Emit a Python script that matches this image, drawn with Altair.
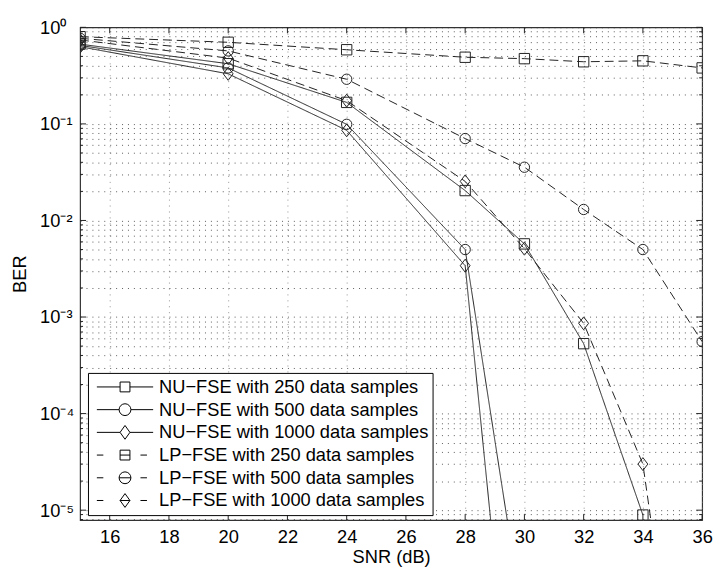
import altair as alt
import pandas as pd

# ---------------- data ----------------
snr = [15, 20, 24, 28, 30, 32, 34, 36]
series = [
    "NU−FSE with 250 data samples",
    "NU−FSE with 500 data samples",
    "NU−FSE with 1000 data samples",
    "LP−FSE with 250 data samples",
    "LP−FSE with 500 data samples",
    "LP−FSE with 1000 data samples",
]
nu_250 = [0.67, 0.42, 0.167, 0.0204, 0.00572, 5.3e-4, 8.9e-6, None]
nu_500 = [0.65, 0.38, 0.099, 0.0050, 5.7e-7, None, None, None]
nu_1000 = [0.63, 0.33, 0.0858, 0.0034, 2.6e-9, None, None, None]
lp_250 = [0.80, 0.70, 0.586, 0.49, 0.474, 0.44, 0.45, 0.38]
lp_500 = [0.77, 0.57, 0.29, 0.0705, 0.0356, 0.0130, 0.0050, 5.56e-4]
lp_1000 = [0.74, 0.48, 0.174, 0.0254, 0.0051, 8.6e-4, 3.0e-5, 1.5e-9]

x_tick_values = [16, 18, 20, 22, 24, 26, 28, 30, 32, 34, 36]
y_decades = [1e-5, 1e-4, 1e-3, 1e-2, 1e-1, 1.0]
y_domain = [7.9e-6, 1.0]
x_domain = [15, 36]

# ---------------- tables ----------------
all_vals = [nu_250, nu_500, nu_1000, lp_250, lp_500, lp_1000]
rows = []
for name, vals in zip(series, all_vals):
    for x, v in zip(snr, vals):
        if v is not None:
            rows.append({"snr": x, "ber": v, "series": name})
df = pd.DataFrame(rows)

y_minor = []
for e in range(-6, 0):
    for m in range(1, 10):
        v = float(f"{m}e{e}")
        if y_domain[0] <= v <= y_domain[1]:
            y_minor.append(v)
y_minor.append(1.0)
y_minor_only = [v for v in y_minor if v not in y_decades]

# ---------------- styling ----------------
FONT = "Liberation Sans"
FS = 18.5
W, H = 630, 499
INK = "#222222"

sup = {0: "10⁰", -1: "10⁻¹", -2: "10⁻²", -3: "10⁻³", -4: "10⁻⁴", -5: "10⁻⁵"}
E = "round(log(datum.value)/LN10)"
inner = " : ".join(f"{E} == {k} ? '{v}'" for k, v in sup.items()) + " : ''"
label_expr = f"abs(log(datum.value)/LN10 - {E}) < 0.01 ? ({inner}) : ''"

xscale = alt.Scale(domain=x_domain, nice=False, zero=False)
yscale = alt.Scale(type="log", domain=y_domain, nice=False)

dash_range = [[1, 0], [1, 0], [1, 0], [9, 5], [9, 5], [9, 5]]
diamond = "M0,-1.25L0.95,0L0,1.25L-0.95,0Z"
shape_range = ["square", "circle", diamond, "square", "circle", diamond]

s, c, dw, dh = 0.175, 0.21, 0.175, 0.245
sq = f"M{-s},{-s}L{s},{-s}L{s},{s}L{-s},{s}Z"
ci = f"M{-c},0A{c},{c},0,1,0,{c},0A{c},{c},0,1,0,{-c},0Z"
di = f"M0,{-dh}L{dw},0L0,{dh}L{-dw},0Z"
nu_line = lambda h: f"M-1,0L{-h},0M{h},0L1,0"
lp_line = lambda h: f"M-1,0L-0.77,0M0.55,0L0.78,0M{-h},0L{h},0"
legend_paths = [
    nu_line(s) + sq, nu_line(c) + ci, nu_line(dw) + di,
    lp_line(s) + sq, lp_line(c) + ci, lp_line(dw) + di,
]

x_axis = alt.Axis(
    title="SNR (dB)", values=x_tick_values, format="d", grid=True,
    gridDash=[1, 5], gridColor="#777", gridOpacity=0.8, ticks=False, domain=False,
    labelFont=FONT, labelFontSize=FS, labelColor="black", labelPadding=8,
    titleFont=FONT, titleFontSize=FS, titleFontWeight="normal", titleColor="black",
    titlePadding=1, labelFlush=False, labelOverlap=False,
)
y_axis = alt.Axis(
    title="BER", values=y_minor, labelExpr=label_expr, grid=True,
    gridDash=[1, 5], gridColor="#333", gridOpacity=0.8, ticks=False, domain=False,
    labelFont=FONT, labelFontSize=FS, labelColor="black", labelAlign="left",
    labelPadding=41, labelBaseline="middle", labelOverlap=False, labelFlush=False,
    titleFont=FONT, titleFontSize=FS, titleFontWeight="normal", titleColor="black",
    titlePadding=10,
)

X = lambda: alt.X("snr:Q", scale=xscale, axis=x_axis)
Y = lambda: alt.Y("ber:Q", scale=yscale, axis=y_axis)

base = alt.Chart(df)

lines = base.mark_line(color=INK, strokeWidth=1, clip=True).encode(
    x=X(), y=Y(),
    strokeDash=alt.StrokeDash("series:N", scale=alt.Scale(domain=series, range=dash_range), legend=None),
    detail="series:N",
    order="snr:Q",
)

points = base.mark_point(filled=False, color=INK, strokeWidth=1, size=110, opacity=1, clip=True).encode(
    x=X(), y=Y(),
    shape=alt.Shape("series:N", scale=alt.Scale(domain=series, range=shape_range), legend=None),
)

legend_layer = base.transform_filter("false").mark_point(
    filled=False, color="black", strokeWidth=1, opacity=1
).encode(
    x=X(), y=Y(),
    shape=alt.Shape(
        "series:N",
        scale=alt.Scale(domain=series, range=legend_paths),
        legend=alt.Legend(
            orient="none", legendX=8, legendY=350, title=None,
            symbolSize=3249, symbolStrokeWidth=1, symbolStrokeColor="black",
            symbolFillColor="transparent", symbolOffset=5.5,
            labelFont=FONT, labelFontSize=FS, labelColor="black", labelLimit=600,
            labelOffset=5.5, padding=3, strokeColor="black", fillColor="white",
            clipHeight=22.4, rowPadding=0, cornerRadius=0, symbolLimit=10,
        ),
    ),
)

# inward tick marks, as in the reference frame
xt = alt.Chart(pd.DataFrame({"snr": x_tick_values}))
tick_x_bottom = xt.mark_rule(color=INK, strokeWidth=1).encode(
    x=X(), y=alt.value(H), y2=alt.value(H - 6))
tick_x_top = xt.mark_rule(color=INK, strokeWidth=1).encode(
    x=X(), y=alt.value(0), y2=alt.value(6))

ytM = alt.Chart(pd.DataFrame({"ber": y_decades}))
ytm = alt.Chart(pd.DataFrame({"ber": y_minor_only}))
tick_y_left_M = ytM.mark_rule(color=INK, strokeWidth=1).encode(
    y=Y(), x=alt.value(0), x2=alt.value(6))
tick_y_right_M = ytM.mark_rule(color=INK, strokeWidth=1).encode(
    y=Y(), x=alt.value(W), x2=alt.value(W - 6))
tick_y_left_m = ytm.mark_rule(color=INK, strokeWidth=1).encode(
    y=Y(), x=alt.value(0), x2=alt.value(3))
tick_y_right_m = ytm.mark_rule(color=INK, strokeWidth=1).encode(
    y=Y(), x=alt.value(W), x2=alt.value(W - 3))

chart = (
    alt.layer(
        lines, points,
        tick_x_bottom, tick_x_top,
        tick_y_left_M, tick_y_right_M, tick_y_left_m, tick_y_right_m,
        legend_layer,
    )
    .resolve_scale(shape="independent")
    .properties(width=W, height=H, padding={"left": 3, "top": 7, "right": 0, "bottom": 0},
                background="white")
    .configure_view(stroke="#333", strokeWidth=1.2)
)

chart.save("out.html", embed_options={"renderer": "svg", "actions": False})
